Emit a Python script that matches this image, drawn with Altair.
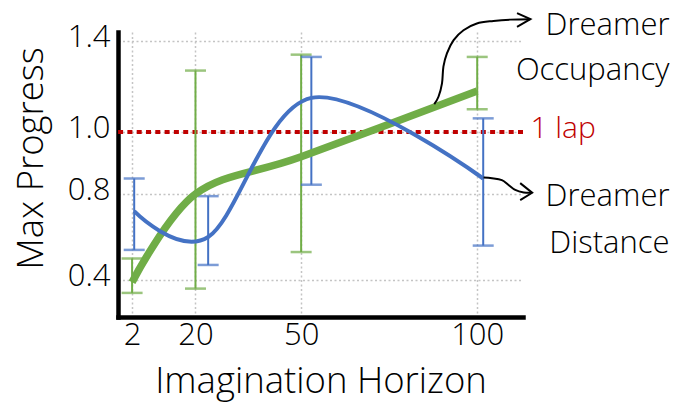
import altair as alt
import pandas as pd

# ---------------- data ----------------
horizons = [2, 20, 50, 100]
occ_mean = [0.39, 0.80, 0.92, 1.18]
occ_low = [0.34, 0.36, 0.53, 1.10]
occ_high = [0.50, 1.27, 1.34, 1.33]

dist_x = [2.6, 23.6, 52.9, 101.7]
dist_mean = [0.72, 0.60, 1.15, 0.85]
dist_low = [0.54, 0.47, 0.83, 0.56]
dist_high = [0.85, 0.79, 1.33, 1.06]

y_ticks = [0.4, 0.8, 1.0, 1.4]
x_ticks = [2, 20, 50, 100]
lap_value = 1.0

# annotation texts (data units)
ann_text = ["Dreamer", "Occupancy", "Dreamer", "Distance"]
ann_x = [154.6, 154.6, 154.6, 154.6]
ann_y = [1.427, 1.229, 0.744, 0.526]
lap_text = ["1 lap"]
lap_x = [115.1]
lap_y = [0.981]

# annotation arrows (data units)
arrow1_x = [87.8, 89.0, 90.0, 90.4, 91.4, 93.3, 96.1, 99.9, 104.6, 109.4, 115.1]
arrow1_y = [1.123, 1.155, 1.214, 1.287, 1.346, 1.404, 1.448, 1.478, 1.489, 1.495, 1.497]
head1_x = [111.3, 115.1, 111.3]
head1_y = [1.524, 1.497, 1.463]
arrow2_x = [101.8, 104.2, 107.0, 108.9, 110.8, 113.2, 115.6]
arrow2_y = [0.853, 0.851, 0.845, 0.829, 0.813, 0.805, 0.804]
head2_x = [112.2, 115.6, 112.2]
head2_y = [0.835, 0.804, 0.772]

GREEN = "#70ad47"
BLUE = "#4472c4"
RED = "#c00000"
FONT = "Open Sans"
W = 300

occ = pd.DataFrame({"h": horizons, "mean": occ_mean, "low": occ_low, "high": occ_high})
dist = pd.DataFrame({"h": dist_x, "mean": dist_mean, "low": dist_low, "high": dist_high})
ann = pd.DataFrame({"x": ann_x, "y": ann_y, "t": ann_text})
lap = pd.DataFrame({"x": lap_x, "y": lap_y, "t": lap_text})
arrows = pd.concat([
    pd.DataFrame({"id": "a1", "i": range(len(arrow1_x)), "x": arrow1_x, "y": arrow1_y}),
    pd.DataFrame({"id": "a2", "i": range(len(arrow2_x)), "x": arrow2_x, "y": arrow2_y}),
])
heads = pd.concat([
    pd.DataFrame({"id": "h1", "i": range(3), "x": head1_x, "y": head1_y}),
    pd.DataFrame({"id": "h2", "i": range(3), "x": head2_x, "y": head2_y}),
])

xscale = alt.Scale(domain=[-2, 113], nice=False, zero=False)
yscale = alt.Scale(domain=[0.228, 0.4, 0.8, 1.0, 1.4, 1.44],
                   range=[285, 248, 162, 100, 9, 0], nice=False, zero=False)

xaxis = alt.Axis(values=x_ticks, title="Imagination Horizon", grid=True, ticks=False, tickSize=0,
                 labelPadding=27, labelBaseline="alphabetic", labelFlush=False, labelOverlap=False,
                 titleX=202.5, titleY=75, titleBaseline="alphabetic")
yaxis = alt.Axis(values=y_ticks, title="Max Progress", grid=True, ticks=False, tickSize=0,
                 format=".1f", labelPadding=8, labelBaseline="middle", labelOffset=-4,
                 labelFlush=False, labelOverlap=False,
                 titleX=-76, titleY=126, titleBaseline="alphabetic", titleAngle=270)


def X(field):
    return alt.X(field, type="quantitative", scale=xscale, axis=xaxis)


def Y(field):
    return alt.Y(field, type="quantitative", scale=yscale, axis=yaxis)


lap_rule = alt.Chart(pd.DataFrame({"v": [lap_value]})).mark_rule(
    color=RED, strokeWidth=4, strokeDash=[5, 4.3]
).encode(y=Y("v"))


def errorbars(df, color):
    rule = alt.Chart(df).mark_rule(color=color, strokeWidth=2).encode(
        x=X("h"), y=Y("low"), y2="high")
    lo = alt.Chart(df).mark_tick(color=color, orient="horizontal", size=21, thickness=2.5).encode(
        x=X("h"), y=Y("low"))
    hi = alt.Chart(df).mark_tick(color=color, orient="horizontal", size=21, thickness=2.5).encode(
        x=X("h"), y=Y("high"))
    return [rule, lo, hi]


occ_line = alt.Chart(occ).mark_line(color=GREEN, strokeWidth=7.5, interpolate="cardinal").encode(
    x=X("h"), y=Y("mean"))
dist_line = alt.Chart(dist).mark_line(color=BLUE, strokeWidth=4, interpolate="cardinal").encode(
    x=X("h"), y=Y("mean"))

ann_text_layer = alt.Chart(ann).mark_text(
    font=FONT, fontSize=31, fontWeight=W, align="right", baseline="alphabetic", color="black"
).encode(x=X("x"), y=Y("y"), text="t:N")
lap_text_layer = alt.Chart(lap).mark_text(
    font=FONT, fontSize=30, fontWeight=W, align="left", baseline="alphabetic", color=RED
).encode(x=X("x"), y=Y("y"), text="t:N")

arrow_layer = alt.Chart(arrows).mark_line(color="black", strokeWidth=2, interpolate="cardinal").encode(
    x=X("x"), y=Y("y"), detail="id:N", order="i:Q")
head_layer = alt.Chart(heads).mark_line(color="black", strokeWidth=2).encode(
    x=X("x"), y=Y("y"), detail="id:N", order="i:Q")

layers = [lap_rule] + errorbars(occ, GREEN) + errorbars(dist, BLUE) + [
    occ_line, dist_line, ann_text_layer, lap_text_layer, arrow_layer, head_layer]

chart = alt.layer(*layers).properties(
    width=405, height=285,
    padding={"left": 118, "top": 32, "right": 154, "bottom": 86},
    autosize=alt.AutoSizeParams(type="none"),
).configure_view(stroke=None).configure_axis(
    domainColor="black", domainWidth=4.5, domainCap="square",
    gridColor="#c4c4c4", gridDash=[2, 2.5], gridWidth=1.5,
    labelFont=FONT, labelFontSize=31, labelFontWeight=W, labelColor="black",
    titleFont=FONT, titleFontSize=36.5, titleFontWeight=W, titleColor="black",
)

chart.save("out.html", embed_options={"renderer": "svg", "actions": False})
